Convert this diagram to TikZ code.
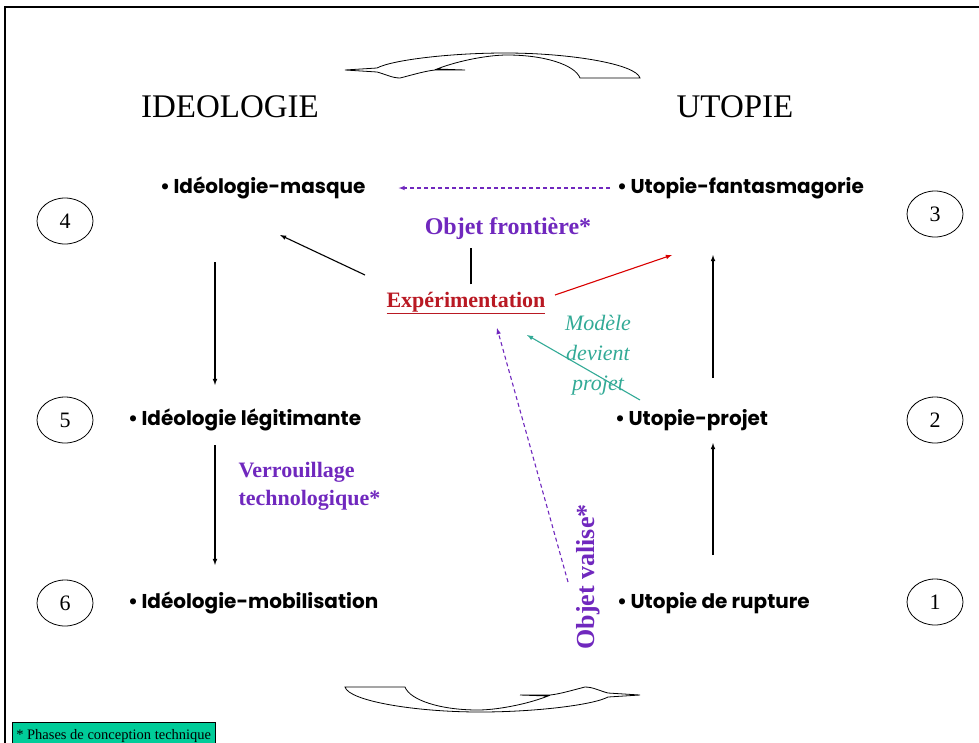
\documentclass[tikz,border=0pt]{standalone}
\usepackage{fontspec}
\usepackage{tikz}
\usepackage{xcolor}
\usetikzlibrary{shapes.geometric,calc}
\setmainfont{Liberation Serif}
\newfontfamily\labfont{Poppins}

\definecolor{violetobj}{RGB}{112,40,190}
\definecolor{rougexp}{RGB}{185,25,35}
\definecolor{tealmod}{RGB}{50,170,150}
\definecolor{vertnote}{RGB}{0,204,153}

\tikzset{
  lab/.style={anchor=west,inner sep=0pt,font=\labfont\bfseries\fontsize{20}{24}\selectfont},
  titre/.style={font=\fontsize{33}{38}\selectfont},
  num/.style={ellipse,draw,thick,minimum width=56pt,minimum height=46pt,inner sep=0pt,font=\fontsize{22}{24}\selectfont},
  arr/.style={-latex,line width=1.1pt},
  dasharr/.style={-latex,violetobj,line width=1.1pt,dash pattern=on 4pt off 3pt},
  objtxt/.style={violetobj,font=\bfseries\fontsize{22}{28}\selectfont},
}

\begin{document}
\begin{tikzpicture}[x=1pt,y=-1pt]
\useasboundingbox (0,0) rectangle (979,742);
\draw[line width=2pt] (990,7) -- (5,7) -- (5,750);
% swap arrows
\foreach \ang in {0,180}
  \draw[thick,fill=white,rotate around={\ang:(492.5,382.5)}] (580,78) -- (640,78)
    .. controls (636,64) and (570,53) .. (505,53)
    .. controls (450,53) and (392,60) .. (377,68) -- (345,70) -- (377,72)
    .. controls (385,74) and (392,78) .. (400,78)
    .. controls (412,75) and (425,71) .. (435,70) -- (465,70) -- (437,69)
    .. controls (460,60) and (490,55) .. (507,55)
    .. controls (545,55) and (575,65) .. (580,78) -- cycle;
\node[titre] (ideo) at (230,107) {IDEOLOGIE};
\node[titre] (utop) at (735,107) {UTOPIE};
% stages
\node[lab] (masque) at (160,188) {•\,Idéologie-masque};
\node[lab] (legit) at (128,420) {•\,Idéologie légitimante};
\node[lab] (mobil) at (128,603) {•\,Idéologie-mobilisation};
\node[lab] (fantas) at (617,188) {•\,Utopie-fantasmagorie};
\node[lab] (projet) at (615,420) {•\,Utopie-projet};
\node[lab] (rupture) at (617,603) {•\,Utopie de rupture};
\node[num] (n4) at (65,221) {4};
\node[num] (n5) at (65,420) {5};
\node[num] (n6) at (65,603) {6};
\node[num] (n3) at (935,214) {3};
\node[num] (n2) at (935,420) {2};
\node[num] (n1) at (935,602) {1};
% middle texts
\node[objtxt,font=\bfseries\fontsize{24}{28}\selectfont] (front) at (508,229) {Objet frontière*};
\node[rougexp,font=\bfseries\fontsize{22}{28}\selectfont] (exper) at (466,303) {\underline{Expérimentation}};
\node[tealmod,align=center,font=\itshape\fontsize{22}{30}\selectfont] (modele) at (598,355) {Modèle\\devient\\projet};
\node[objtxt,align=left,anchor=west] (verrou) at (235,486) {Verrouillage\\technologique*};
\node[objtxt,rotate=90,font=\bfseries\fontsize{26}{28}\selectfont] (valise) at (588,577) {Objet valise*};
\node[draw,fill=vertnote,anchor=north west,minimum width=203pt,minimum height=30pt,text depth=0pt,inner sep=3pt,font=\fontsize{14.5}{16}\selectfont] (note) at (12,722) {\raisebox{5pt}{* Phases de conception technique}};
% connectors
\coordinate (colL) at (215,0);
\coordinate (colR) at (713,0);
\draw[arr,shorten <=74pt,shorten >=35pt] (masque -| colL) -- (legit -| colL);
\draw[arr,shorten <=25pt,shorten >=38pt] (legit -| colL) -- (mobil -| colL);
\draw[arr,shorten <=48pt,shorten >=23pt] (rupture -| colR) -- (projet -| colR);
\draw[arr,shorten <=42pt,shorten >=67pt] (projet -| colR) -- (fantas -| colR);
\draw[dasharr,shorten <=7pt,shorten >=33pt] (fantas.west) -- (masque.east);
\draw[arr] ($(exper)+(-101,-28)$) -- ($(masque.west)+(120,47)$);
\draw[line width=1.1pt,shorten <=4pt,shorten >=4pt] ([xshift=5pt]exper.north) -- ([xshift=5pt]exper.north |- front.south);
\draw[-latex,red!85!black,line width=1.1pt] ($(exper)+(89,-8)$) -- ($(fantas.west)+(55,67)$);
\draw[-latex,tealmod,line width=1.1pt] ($(projet.west)+(25,-20)$) -- ($(exper)+(61,32)$);
\draw[dasharr] ($(valise)+(-20,5)$) -- ($(exper)+(31,25)$);
\end{tikzpicture}
\end{document}
